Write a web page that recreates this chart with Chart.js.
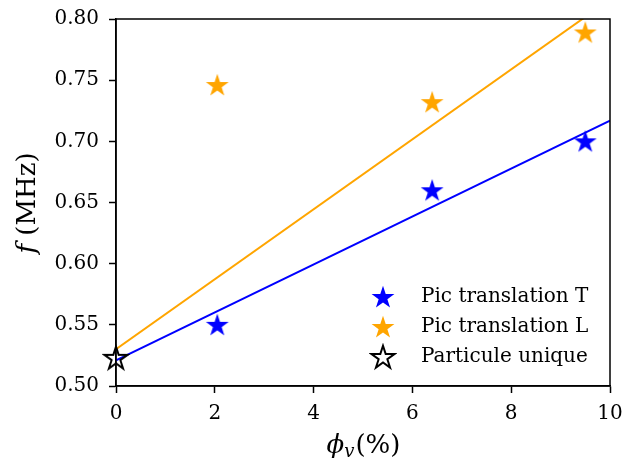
<!DOCTYPE html>
<html>
<head>
<meta charset="utf-8">
<script src="https://cdn.jsdelivr.net/npm/chart.js@4.4.1/dist/chart.umd.min.js"></script>
<style>
  html, body { margin: 0; padding: 0; background: #fff; }
  #wrap { width: 624px; height: 464px; }
</style>
</head>
<body>
<div id="wrap"><canvas id="chart" width="624" height="464"></canvas></div>
<script>
// values
const phiT = [2.05, 6.4, 9.5];
const freqT = [0.550, 0.660, 0.700];
const phiL = [2.05, 6.4, 9.5];
const freqL = [0.746, 0.732, 0.789];
const phiSingle = [0];
const freqSingle = [0.523];
const fitPhi = [0, 10];
const fitT = [0.521, 0.717];
const fitL = [0.530, 0.816];
const xTicks = [0, 2, 4, 6, 8, 10];
const yTicks = [0.50, 0.55, 0.60, 0.65, 0.70, 0.75, 0.80];
const legendLabels = ['Pic translation T', 'Pic translation L', 'Particule unique'];

const FONT = '"DejaVu Serif", "Liberation Serif", serif';

function makeStar(fill, stroke) {
    const c = document.createElement('canvas');
    c.width = 28; c.height = 28;
    const g = c.getContext('2d');
    const R = 12, r = R * 0.382;
    g.beginPath();
    for (let i = 0; i < 10; i++) {
        const rad = i % 2 === 0 ? R : r;
        const a = -Math.PI / 2 + i * Math.PI / 5;
        const px = 14 + rad * Math.cos(a), py = 14.8 + rad * Math.sin(a);
        if (i === 0) g.moveTo(px, py); else g.lineTo(px, py);
    }
    g.closePath();
    if (fill) { g.fillStyle = fill; g.fill(); }
    if (stroke) { g.strokeStyle = stroke; g.lineWidth = 2; g.stroke(); }
    return c;
}

const starBlue = makeStar('#0000ff', null);
const starOrange = makeStar('#ffa500', null);
const starHollow = makeStar(null, '#000000');
const legendStars = [starBlue, starOrange, starHollow];

const pts = (xs, ys) => xs.map((x, i) => ({ x: x, y: ys[i] }));

const decor = {
    id: 'decor',
    afterDraw(chart) {
        const ctx = chart.ctx;
        const a = chart.chartArea;
        ctx.save();
        // frame
        ctx.strokeStyle = '#000';
        ctx.lineWidth = 1.5;
        ctx.strokeRect(a.left, a.top, a.right - a.left, a.bottom - a.top);

        // legend
        ctx.fillStyle = '#000';
        ctx.font = '20px ' + FONT;
        ctx.textBaseline = 'middle';
        legendLabels.forEach((lab, i) => {
            const y = 297 + i * 30;
            ctx.drawImage(legendStars[i], 383 - 14, y - 14);
            ctx.fillText(lab, 421, y);
        });

        // y title
        ctx.save();
        ctx.translate(28, 203);
        ctx.rotate(-Math.PI / 2);
        ctx.textBaseline = 'middle';
        ctx.font = 'italic 26px ' + FONT;
        const w1 = ctx.measureText('f').width;
        ctx.font = '26px ' + FONT;
        const w2 = ctx.measureText(' (MHz)').width;
        const x0 = -(w1 + w2) / 2;
        ctx.font = 'italic 26px ' + FONT;
        ctx.fillText('f', x0, 0);
        ctx.font = '26px ' + FONT;
        ctx.fillText(' (MHz)', x0 + w1, 0);
        ctx.restore();

        // x title
        const cx = (a.left + a.right) / 2, cy = 446;
        ctx.textBaseline = 'middle';
        ctx.font = 'italic 26px ' + FONT;
        const p1 = ctx.measureText('ϕ').width;
        ctx.font = 'italic 18px ' + FONT;
        const p2 = ctx.measureText('v').width;
        ctx.font = '26px ' + FONT;
        const p3 = ctx.measureText('(%)').width;
        const sx = cx - (p1 + p2 + p3) / 2;
        ctx.font = 'italic 26px ' + FONT;
        ctx.fillText('ϕ', sx, cy);
        ctx.font = 'italic 18px ' + FONT;
        ctx.fillText('v', sx + p1, cy + 6);
        ctx.font = '26px ' + FONT;
        ctx.fillText('(%)', sx + p1 + p2 + 1, cy);
        ctx.restore();
    }
};

new Chart(document.getElementById('chart').getContext('2d'), {
    type: 'scatter',
    data: {
        datasets: [
            { type: 'line', data: pts(fitPhi, fitT), borderColor: '#0000ff', borderWidth: 2, pointRadius: 0, fill: false, order: 5 },
            { type: 'line', data: pts(fitPhi, fitL), borderColor: '#ffa500', borderWidth: 2, pointRadius: 0, fill: false, order: 4 },
            { data: pts(phiT, freqT), pointStyle: starBlue, order: 3, clip: false },
            { data: pts(phiL, freqL), pointStyle: starOrange, order: 2, clip: false },
            { data: pts(phiSingle, freqSingle), pointStyle: starHollow, order: 1, clip: false }
        ]
    },
    options: {
        responsive: false,
        animation: false,
        layout: { padding: { top: 19, right: 14, left: 0, bottom: 0 } },
        plugins: { legend: { display: false }, tooltip: { enabled: false } },
        scales: {
            x: {
                type: 'linear', min: 0, max: 10,
                afterFit: s => { s.height = 78; s.paddingLeft = 0; s.paddingRight = 0; },
                afterBuildTicks: s => { s.ticks = xTicks.map(v => ({ value: v })); },
                grid: { drawOnChartArea: false, drawTicks: true, tickLength: 7, tickWidth: 1.5, tickColor: '#000' },
                border: { display: true, color: '#000', width: 1.5 },
                ticks: { color: '#000', font: { family: FONT, size: 20 }, padding: 9, maxRotation: 0, callback: v => String(v) }
            },
            y: {
                type: 'linear', min: 0.5, max: 0.8,
                afterFit: s => { s.width = 116; s.paddingTop = 0; s.paddingBottom = 0; },
                afterBuildTicks: s => { s.ticks = yTicks.map(v => ({ value: v })); },
                grid: { drawOnChartArea: false, drawTicks: true, tickLength: 7, tickWidth: 1.5, tickColor: '#000' },
                border: { display: true, color: '#000', width: 1.5 },
                ticks: { color: '#000', font: { family: FONT, size: 20 }, padding: 10, callback: v => v.toFixed(2) }
            }
        }
    },
    plugins: [decor]
});
</script>
</body>
</html>
